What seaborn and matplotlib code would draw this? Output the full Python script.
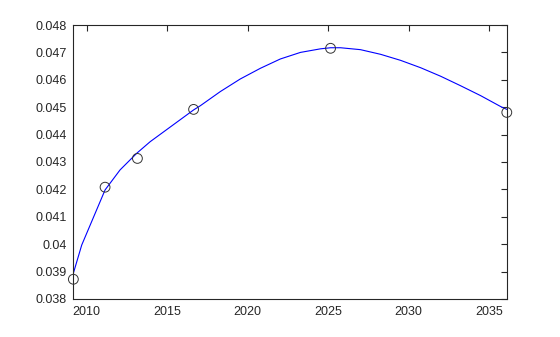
import matplotlib
matplotlib.use("Agg")
import matplotlib.pyplot as plt
import seaborn as sns
import pandas as pd

# observed points (open circles)
point_years = [2009.17, 2011.14, 2013.15, 2016.64, 2025.15, 2036.10]
point_values = [0.03872, 0.04208, 0.04313, 0.04492, 0.04715, 0.04481]

# fitted curve (blue)
curve_years = [2009.17, 2009.69, 2011.14, 2012.07, 2013.11, 2013.94, 2015.08,
               2016.64, 2017.05, 2018.30, 2019.54, 2020.79, 2022.03, 2023.28,
               2024.52, 2025.15, 2025.77, 2027.01, 2028.26, 2029.50, 2030.75,
               2031.99, 2033.24, 2034.48, 2035.73, 2036.10]
curve_values = [0.03894, 0.03997, 0.04198, 0.04271, 0.04332, 0.04374, 0.04423,
                0.04490, 0.04505, 0.04557, 0.04603, 0.04642, 0.04676, 0.04700,
                0.04713, 0.04717, 0.04717, 0.04710, 0.04693, 0.04671, 0.04644,
                0.04613, 0.04578, 0.04542, 0.04502, 0.04492]

x_ticks = [2010, 2015, 2020, 2025, 2030, 2035]
y_ticks = [0.038, 0.039, 0.04, 0.041, 0.042, 0.043, 0.044, 0.045, 0.046, 0.047, 0.048]
y_tick_labels = ["0.038", "0.039", "0.04", "0.041", "0.042", "0.043",
                 "0.044", "0.045", "0.046", "0.047", "0.048"]

sns.set_style("white")
plt.rcParams["font.family"] = ["Liberation Sans", "DejaVu Sans"]

fig = plt.figure(figsize=(5.6, 3.37), dpi=100)
ax = fig.add_axes([0.131, 0.1128, 0.774, 0.8130])

curve_df = pd.DataFrame({"year": curve_years, "value": curve_values})
pts_df = pd.DataFrame({"year": point_years, "value": point_values})

sns.lineplot(data=curve_df, x="year", y="value", ax=ax, color="#0000ff",
             linewidth=0.8, sort=False, zorder=2)
sns.scatterplot(data=pts_df, x="year", y="value", ax=ax, marker="o",
                s=50, facecolors="none", edgecolor="#333333", linewidth=0.7,
                zorder=3, clip_on=False)

ax.set_xlim(point_years[0], point_years[-1])
ax.set_ylim(0.038, 0.048)
ax.set_xticks(x_ticks)
ax.set_xticklabels([str(t) for t in x_ticks])
ax.set_yticks(y_ticks)
ax.set_yticklabels(y_tick_labels)
ax.set_xlabel("")
ax.set_ylabel("")

axis_color = "#262626"
for sp in ax.spines.values():
    sp.set_visible(True)
    sp.set_color(axis_color)
    sp.set_linewidth(0.8)
ax.tick_params(axis="both", which="both", direction="in", length=4, width=0.8,
               colors=axis_color, labelsize=9, top=True, right=True,
               labelcolor=axis_color, pad=5)

fig.savefig("out.png", dpi=100, facecolor="white")
